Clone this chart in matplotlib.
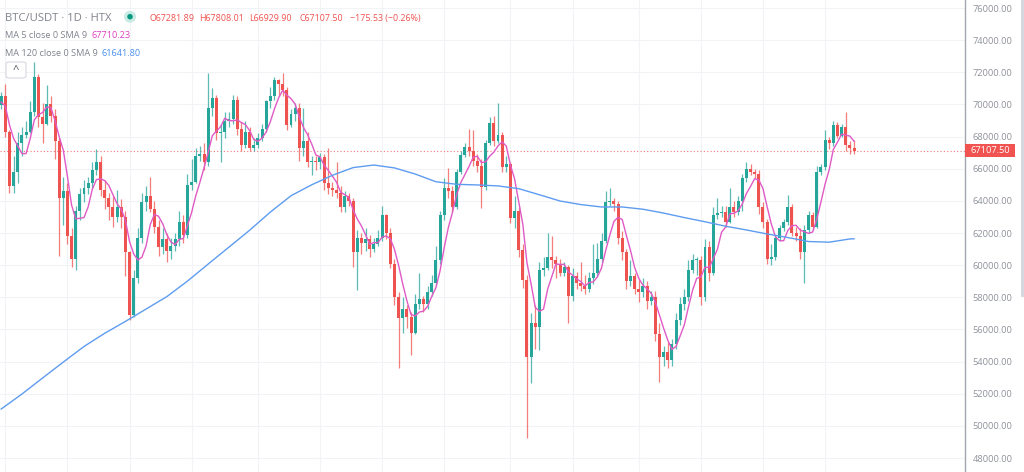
import matplotlib
matplotlib.use("Agg")
import matplotlib.pyplot as plt
import matplotlib.transforms as mtransforms
from matplotlib.patches import FancyBboxPatch, Ellipse, Rectangle
import numpy as np

# ---------------- data ----------------
prior_closes = [69500, 70800, 70000, 69900]   # closes before the visible window (for MA5)
first_open = 69960

closes = [
    70500, 68300, 64900, 65800, 67600, 68100, 68300, 69500, 71700, 69200,
    68800, 70000, 69300, 67700, 64200, 64600, 61800, 60400, 63400, 64400,
    64800, 65100, 65900, 66400, 64700, 64200, 63600, 63000, 63600, 63000,
    60800, 56900, 59200, 61700, 63900, 64300, 63500, 62400, 61100, 61600,
    60900, 61200, 61600, 62700, 61900, 65000, 65200, 66800, 66900, 66400,
    69800, 70400, 68200, 68300, 69000, 69100, 70300, 68500, 67500, 68300,
    67300, 67500, 67900, 68500, 70200, 70500, 71500, 71300, 70900, 68700,
    69400, 69800, 67300, 67700, 66400, 66500, 66400, 66700, 65100, 64800,
    64700, 64500, 63600, 64300, 64000, 60800, 61700, 61400, 61600, 61000,
    61300, 61700, 63100, 62000, 60100, 58000, 56700, 57300, 56800, 55800,
    57600, 57900, 57600, 58300, 58900, 60300, 63100, 64800, 64600, 63600,
    65800, 66850, 67350, 67100, 66450, 66150, 64850, 67600, 68850, 67700,
    68100, 66100, 66300, 62950, 63400, 60950, 59080, 54300, 56400, 56150,
    59700, 59800, 60500, 60300, 60100, 59500, 59900, 58100, 59300, 58900,
    58700, 58500, 59200, 59500, 60400, 61500, 63900, 64000, 63800, 61700,
    60800, 59000, 59300, 58500, 58300, 58700, 57800, 58000, 55700, 54300,
    54600, 54100, 55100, 56600, 57600, 58000, 59700, 60300, 60300, 58000,
    61100, 59500, 63100, 63250, 63300, 62700, 63600, 63300, 64000, 65400,
    66000, 65800, 65700, 63600, 62700, 60400, 60500, 61700, 62300, 62700,
    63600, 62000, 61800, 60800, 62200, 63100, 62400, 65800, 66100, 67800,
    67600, 68700, 68060, 68600, 67500, 67281.89, 67107.50,
]
highs = [
    70800, 71300, 68400, 66800, 68300, 68600, 69000, 70200, 72650, 71900,
    70100, 71200, 70500, 69700, 67900, 65500, 65100, 62300, 63700, 64800,
    65300, 65500, 66400, 67200, 66800, 65300, 64500, 64300, 64700, 64100,
    63400, 60900, 59700, 62300, 64500, 64900, 65500, 64000, 62800, 62300,
    62000, 61700, 62000, 63400, 63100, 65700, 66600, 67300, 67400, 67600,
    71950, 71000, 70600, 68800, 69500, 69500, 70600, 70500, 68900, 69000,
    68600, 67900, 68200, 68800, 70300, 71100, 71700, 71600, 71950, 71100,
    69700, 70100, 70100, 69800, 68300, 66800, 66800, 67000, 66900, 67300,
    65200, 66400, 64900, 64600, 64500, 64200, 62200, 62000, 62300, 61900,
    61700, 62200, 63700, 63200, 62300, 60400, 58300, 58000, 57500, 57100,
    58200, 59500, 58100, 58700, 59400, 61200, 63400, 65400, 66040, 64900,
    66000, 67100, 67600, 68470, 68400, 66900, 66600, 67800, 69200, 69300,
    70090, 68300, 66800, 66400, 64300, 63600, 61300, 59400, 57000, 57500,
    60200, 60500, 62000, 61800, 60600, 60400, 60200, 60000, 59800, 59600,
    60200, 59400, 59600, 61300, 61400, 62000, 64600, 64800, 64200, 64000,
    62100, 61000, 60300, 59500, 59100, 59200, 59000, 58400, 58400, 56400,
    55000, 55200, 55400, 57000, 58000, 58500, 60300, 60700, 60500, 60600,
    61600, 61500, 63600, 64180, 63700, 63700, 64800, 64000, 64300, 65700,
    66420, 66300, 66000, 65900, 63900, 62900, 61300, 61900, 62500, 62900,
    64360, 63800, 62400, 62300, 62500, 63400, 63300, 66200, 66300, 68400,
    68000, 69000, 68900, 68800, 69530, 67700, 67808.01,
]
lows = [
    69700, 68000, 64500, 64500, 65100, 66800, 67900, 68200, 69300, 68600,
    67600, 68700, 68900, 66600, 60600, 62500, 61300, 59900, 59700, 62800,
    63900, 64400, 64800, 65600, 64300, 63500, 62800, 62400, 62700, 62300,
    59300, 56600, 56800, 58900, 61400, 63400, 63300, 62000, 60600, 60700,
    60200, 60400, 60900, 61200, 61400, 61700, 64700, 65100, 66500, 65900,
    66200, 69300, 67800, 66400, 67900, 68600, 68800, 68100, 67100, 67300,
    67100, 67100, 67300, 67700, 68300, 69800, 70300, 70500, 70500, 68400,
    68600, 69000, 66500, 66800, 66100, 65600, 65900, 66000, 64700, 64400,
    64300, 64200, 63300, 63300, 63700, 59900, 58450, 60700, 60900, 60500,
    60800, 61200, 61500, 61600, 59800, 57500, 53600, 55800, 56100, 54400,
    55700, 57300, 57100, 57300, 58100, 58700, 60100, 62800, 64200, 63300,
    63500, 65700, 66700, 66800, 66200, 65800, 63560, 64700, 67500, 67400,
    67600, 65800, 65800, 62600, 62300, 60500, 58600, 49250, 52670, 54800,
    54720, 59300, 59700, 59800, 59200, 59300, 59300, 56400, 57800, 58500,
    58400, 58200, 58300, 58800, 59300, 60200, 61400, 63700, 63400, 61300,
    60300, 58500, 58700, 58200, 57700, 58000, 57300, 57500, 55300, 52700,
    53700, 53600, 53700, 54800, 56300, 57200, 57800, 59500, 59400, 57500,
    57800, 59000, 59400, 62900, 63000, 62400, 62600, 63000, 63100, 63400,
    65200, 65600, 65400, 63200, 62300, 60100, 60000, 60300, 61500, 62100,
    62500, 61800, 61500, 60400, 58890, 62000, 62200, 62300, 65600, 65900,
    67200, 67400, 67900, 68000, 67100, 66900, 66929.90,
]

# MA 120 (computed on history before the window) read at every 5th candle
ma120_idx = list(range(0, 206, 5)) + [206]
ma120_vals = [
    51050, 51980, 52980, 53970, 54940, 55760, 56500, 57270, 58040, 59010,
    60070, 61120, 62170, 63300, 64320, 65000, 65590, 66070, 66230, 66050,
    65670, 65190, 65030, 64990, 64930, 64760, 64380, 63990, 63770, 63620,
    63620, 63480, 63240, 62960, 62700, 62420, 62190, 61940, 61720, 61470,
    61430, 61630, 61641.80,
]

y_ticks = list(range(48000, 76001, 2000))
time_grid_idx = [1, 16, 31, 46, 62, 77, 92, 107, 123, 138, 154, 169, 184, 199]

title_text = "BTC/USDT · 1D · HTX"
ohlc_texts = ["O67281.89", "H67808.01", "L66929.90", "C67107.50", "\u2212175.53 (\u22120.26%)"]
ma5_label, ma5_value = "MA 5 close 0 SMA 9", "67710.23"
ma120_label, ma120_value = "MA 120 close 0 SMA 9", "61641.80"
last_price = closes[-1]

# ---------------- styling ----------------
W, H = 1024, 472
UP, DOWN = "#26a69a", "#ef5350"
PINK, BLUE = "#e05ac6", "#5e9cf0"
GRAY_TXT = "#80838d"
FONT = ["Open Sans", "DejaVu Sans"]
plt.rcParams["font.family"] = FONT

fig = plt.figure(figsize=(W / 100, H / 100), dpi=100)
fig.patch.set_facecolor("white")
AX_R = 965
ax = fig.add_axes([0, 0, AX_R / W, 1])
S, X0 = 4.14, 1.2
ax.set_xlim(-X0 / S, (AX_R - X0) / S)
ax.set_ylim(47130, 76498)

n = len(closes)
idx = np.arange(n)
c = np.array(closes, float)
o = np.array([first_open] + closes[:-1], float)
hi = np.array(highs, float)
lo = np.array(lows, float)
up = c >= o
cols = np.where(up, UP, DOWN)

# grid
ax.set_yticks(y_ticks)
ax.set_xticks(time_grid_idx)
ax.grid(True, color="#f1f3f7", linewidth=0.8)
ax.set_axisbelow(True)

# wicks and bodies
ax.vlines(idx, lo, hi, colors=cols, linewidth=0.9, alpha=0.75, zorder=2)
bottom = np.minimum(o, c)
height = np.maximum(np.abs(c - o), 60)
ax.bar(idx, height, bottom=bottom, width=0.72, color=cols, linewidth=0, zorder=3)

# moving averages
all_c = np.array(prior_closes + closes, float)
ma5 = np.convolve(all_c, np.ones(5) / 5, mode="valid")
ax.plot(idx, ma5, color=PINK, linewidth=1.0, zorder=4)
ax.plot(ma120_idx, ma120_vals, color=BLUE, linewidth=1.0, zorder=4)

# last price line
ax.axhline(last_price, color="#f07a78", linewidth=0.8, linestyle=(0, (1, 2)), zorder=1)

# axes styling
for sp in ["top", "left", "bottom"]:
    ax.spines[sp].set_visible(False)
ax.spines["right"].set_color("#a3a6af")
ax.spines["right"].set_linewidth(1.0)
ax.yaxis.tick_right()
ax.set_yticklabels([f"{v:.2f}" for v in y_ticks])
ax.tick_params(axis="y", length=0, pad=5.5, labelsize=6.7, labelcolor="#8f929b")
ax.tick_params(axis="x", length=0, labelbottom=False)

# last price tag
tr = mtransforms.blended_transform_factory(ax.transAxes, ax.transData)
def py(y):
    return 1 - y / H
def px(x):
    return x / W

fig.patches.append(Rectangle((px(965), py(157)), 50 / W, 13 / H, transform=fig.transFigure,
                             facecolor="#f05350", edgecolor="none", zorder=5))
fig.text(px(990), py(150.5), f"{last_price:.2f}", ha="center", va="center",
         color="white", fontsize=6.7, zorder=6)

# scrollbar at far right
fig.patches.append(Rectangle((px(1021), py(297)), 3 / W, 297 / H, transform=fig.transFigure,
                             facecolor="#d6d8dd", edgecolor="none"))

# legend block
fig.text(px(5), py(21), title_text, ha="left", va="baseline", color=GRAY_TXT, fontsize=8.1)
fig.patches.append(Ellipse((px(130), py(16.7)), 12 / W, 12 / H, transform=fig.transFigure,
                           facecolor="#c9ebe4", edgecolor="none"))
fig.patches.append(Ellipse((px(130), py(16.7)), 5.5 / W, 5.5 / H, transform=fig.transFigure,
                           facecolor="#089981", edgecolor="none"))
ohlc_x = [149, 199, 249, 299, 350]
for t, xx in zip(ohlc_texts, ohlc_x):
    fig.text(px(xx), py(20.7), t, ha="left", va="baseline", color="#f05350", fontsize=6.4)

fig.text(px(5), py(38.3), ma5_label, ha="left", va="baseline", color=GRAY_TXT, fontsize=6.6)
fig.text(px(91.5), py(38.3), ma5_value, ha="left", va="baseline", color="#e040c0", fontsize=6.6)
fig.text(px(5), py(56), ma120_label, ha="left", va="baseline", color=GRAY_TXT, fontsize=6.6)
fig.text(px(102), py(56), ma120_value, ha="left", va="baseline", color="#4a8ff0", fontsize=6.6)

# collapse button
fig.patches.append(FancyBboxPatch((px(6), py(78)), 20 / W, 16 / H, transform=fig.transFigure,
                                  boxstyle="round,pad=0,rounding_size=0.004",
                                  facecolor="white", edgecolor="#d5d8de", linewidth=0.8))
fig.text(px(16), py(70), "^", ha="center", va="center", color="#50535e", fontsize=8)

fig.savefig("out.png", dpi=100, facecolor="white")
